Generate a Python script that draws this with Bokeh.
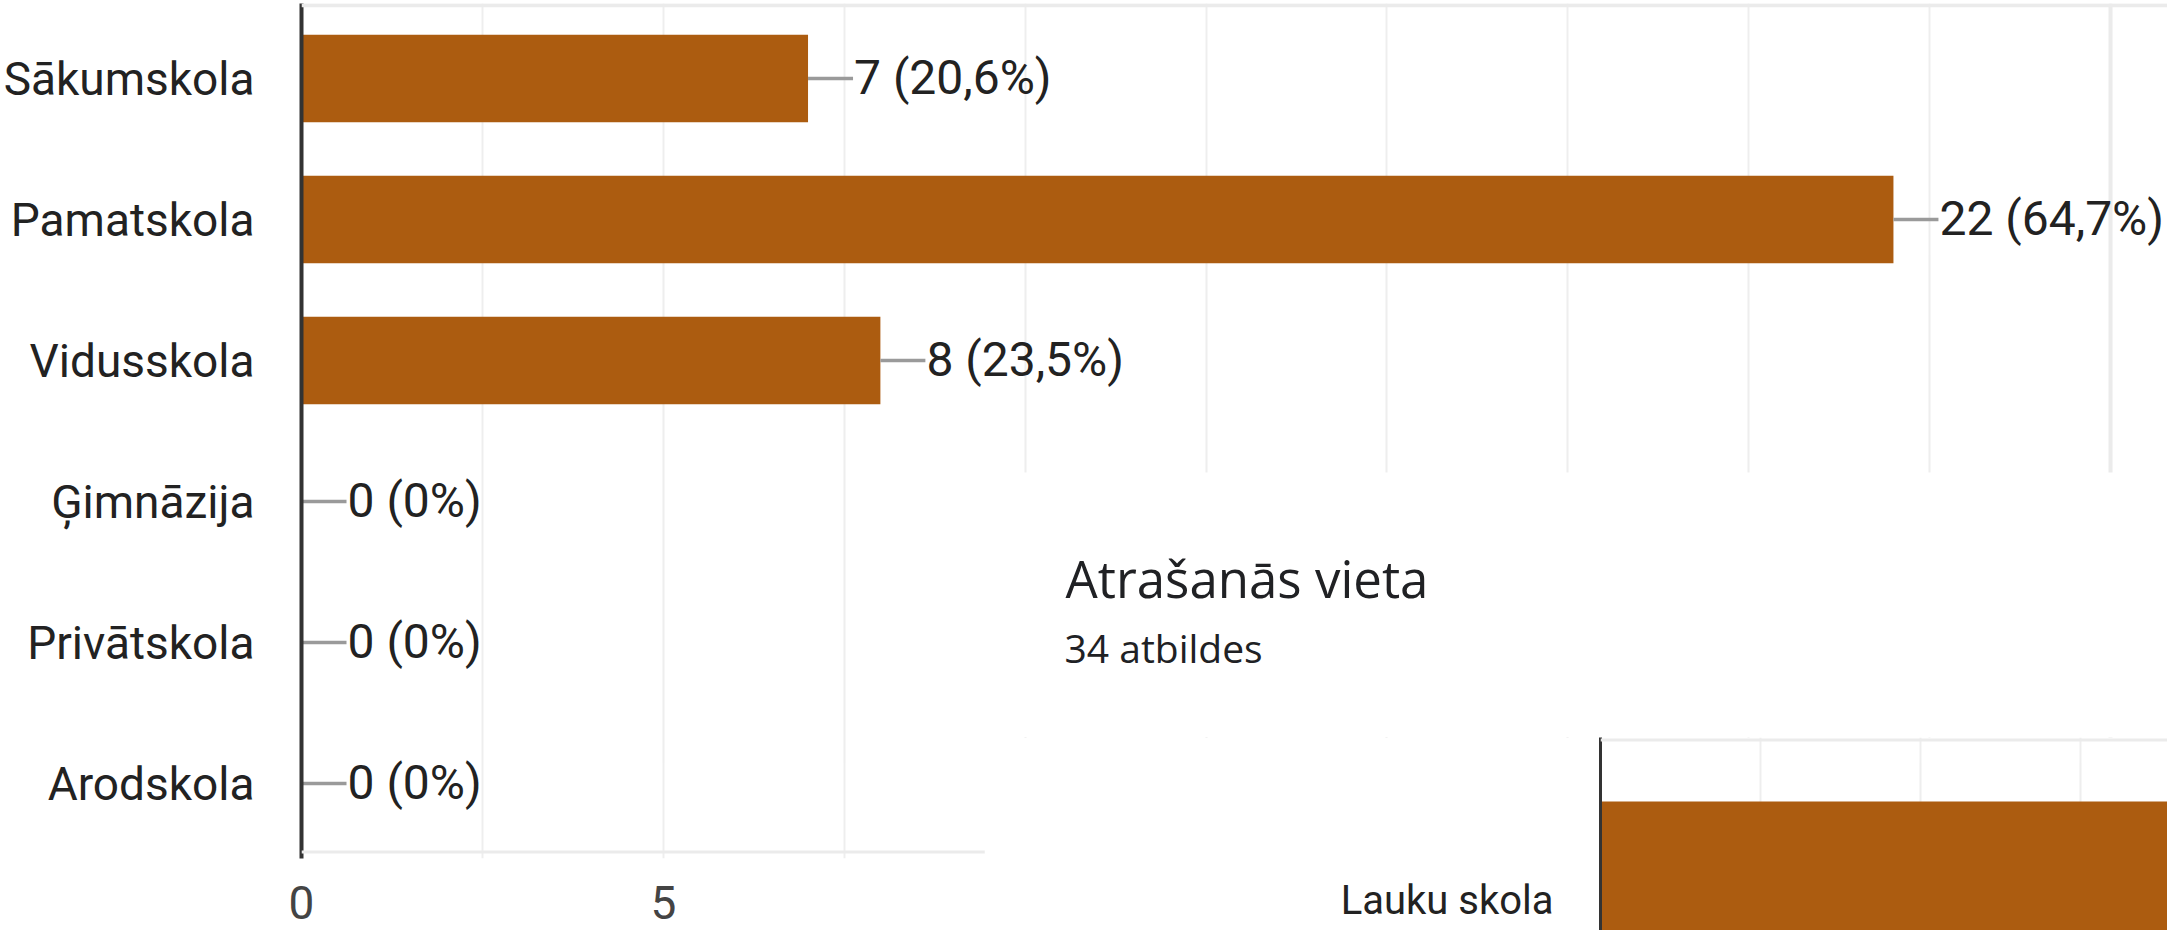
from bokeh.plotting import figure
from bokeh.layouts import column
from bokeh.models import (ColumnDataSource, FixedTicker, Range1d, FactorRange,
                          Label, LabelSet, GridBox, Span)
from bokeh.core.properties import value
from bokeh.embed import file_html
from bokeh.resources import INLINE

# ---------------- data ----------------
categories = ["Sākumskola", "Pamatskola", "Vidusskola", "Ģimnāzija", "Privātskola", "Arodskola"]
counts = [7, 22, 8, 0, 0, 0]
value_labels = ["7 (20,6%)", "22 (64,7%)", "8 (23,5%)", "0 (0%)", "0 (0%)", "0 (0%)"]
x_ticks = [0, 5]   # the tick labels that are visible (the rest are hidden by the overlay)

location_title = "Atrašanās vieta"
location_subtitle = "34 atbildes"
location_categories = ["Lauku skola"]
location_counts = [20]  # estimate: bar runs past the visible area

BAR = "#ac5c10"
FONT = value("Roboto")

# ---------------- main chart ----------------
src = ColumnDataSource(dict(cat=categories, val=counts, lab=value_labels))

PXU = 72.4          # px per unit on x
BAND = 141.0        # px per category band
W1, H1 = 2167, 930
LEFT1, TOP1, BOTTOM1 = 300, 3, 72
PAD = 4.5 / BAND

p1 = figure(width=W1, height=H1,
            y_range=FactorRange(factors=list(reversed(categories)),
                                range_padding=PAD, range_padding_units="absolute"),
            x_range=Range1d(0, (W1 - LEFT1) / PXU),
            output_backend="svg", toolbar_location=None,
            min_border_left=LEFT1, min_border_right=0,
            min_border_top=TOP1, min_border_bottom=BOTTOM1)
p1.background_fill_color = "white"
p1.border_fill_color = "white"
p1.outline_line_color = None

p1.xgrid.ticker = FixedTicker(ticks=[2.5 * i for i in range(11)])
p1.xgrid.grid_line_color = "#eeeeee"
p1.xgrid.grid_line_width = 2
p1.ygrid.grid_line_color = None
p1.add_layout(Span(location=25, dimension="height", line_color="#ebebeb", line_width=4))
p1.add_layout(Span(location=len(categories) + 0.02, dimension="width",
                   line_color="#ebebeb", line_width=4))
p1.add_layout(Span(location=0.014, dimension="width", line_color="#ebebeb", line_width=3))

p1.hbar(y="cat", right="val", left=0, height=0.62, source=src,
        fill_color=BAR, line_color=None)
p1.ray(x="val", y="cat", length=45, length_units="screen", angle=0,
       line_color="#9a9a9a", line_width=3.5, source=src)
p1.add_layout(LabelSet(x="val", y="cat", text="lab", source=src, x_offset=46, y_offset=1,
                       text_baseline="middle", text_align="left",
                       text_font=FONT, text_font_size="48px", text_color="#222222"))

xa = p1.xaxis[0]
xa.ticker = FixedTicker(ticks=x_ticks)
xa.axis_line_color = None
xa.major_tick_line_color = None
xa.minor_tick_line_color = None
xa.major_label_standoff = 21
xa.major_label_text_line_height = 0.8
xa.major_label_text_font = "Roboto"
xa.major_label_text_font_size = "46px"
xa.major_label_text_color = "#444444"

ya = p1.yaxis[0]
ya.axis_line_color = "#333333"
ya.axis_line_width = 4
ya.major_tick_line_color = None
ya.minor_tick_line_color = None
ya.major_label_standoff = 41
ya.major_label_text_font = "Roboto"
ya.major_label_text_font_size = "46px"
ya.major_label_text_color = "#222222"

# ---------------- overlay: heading of the second question ----------------
OX, OY = 984, 472
W2 = W1 - OX
HA = 265
p2a = figure(width=W2, height=HA, x_range=Range1d(0, W2), y_range=Range1d(HA, 0),
             x_axis_location=None, y_axis_location=None,
             output_backend="svg", toolbar_location=None,
             min_border_left=0, min_border_right=0, min_border_top=0, min_border_bottom=0)
p2a.background_fill_color = "white"
p2a.border_fill_color = "white"
p2a.outline_line_color = None
p2a.grid.grid_line_color = None
p2a.add_layout(Label(x=81, y=105, text=location_title,
                     text_font="Open Sans", text_font_size="51px", text_color="#202124",
                     text_baseline="alphabetic", text_align="left"))
p2a.add_layout(Label(x=80, y=175, text=location_subtitle,
                     text_font="Open Sans", text_font_size="39px", text_color="#202124",
                     text_baseline="alphabetic", text_align="left"))

# ---------------- overlay: second chart (top part visible) ----------------
HB = H1 - OY - HA
FR_L = 616
PX_X = 64.0
PX_Y = 321.0
y_top = 0.5 + 2.5 / PX_Y
p2b = figure(width=W2, height=HB,
             x_range=Range1d(0, (W2 - FR_L) / PX_X),
             y_range=Range1d(y_top - HB / PX_Y, y_top),
             x_axis_location=None,
             output_backend="svg", toolbar_location=None,
             min_border_left=FR_L, min_border_top=0,
             min_border_right=0, min_border_bottom=0)
p2b.background_fill_color = "white"
p2b.border_fill_color = "white"
p2b.outline_line_color = None

loc_pos = list(range(len(location_categories)))
p2b.xgrid.ticker = FixedTicker(ticks=[2.5, 5, 7.5])
p2b.xgrid.grid_line_color = "#eeeeee"
p2b.xgrid.grid_line_width = 2
p2b.ygrid.grid_line_color = None
p2b.add_layout(Span(location=0.5, dimension="width", line_color="#ebebeb", line_width=3))
p2b.hbar(y=loc_pos, right=location_counts, left=0, height=0.617,
         fill_color=BAR, line_color=None)

ya2 = p2b.yaxis[0]
ya2.ticker = FixedTicker(ticks=loc_pos)
ya2.major_label_overrides = {i: c for i, c in enumerate(location_categories)}
ya2.axis_line_color = "#333333"
ya2.axis_line_width = 3
ya2.major_tick_line_color = None
ya2.minor_tick_line_color = None
ya2.major_label_standoff = 41
ya2.major_label_text_font = "Roboto"
ya2.major_label_text_font_size = "40px"
ya2.major_label_text_color = "#222222"

c1 = column(p1)
c2a = column(p2a)
c2a.margin = (OY, 0, 0, OX)
c2b = column(p2b)
c2b.margin = (OY + HA, 0, 0, OX)

layout = GridBox(children=[(c1, 0, 0), (c2a, 0, 0), (c2b, 0, 0)])

open("out.html", "w").write(file_html(layout, INLINE))
